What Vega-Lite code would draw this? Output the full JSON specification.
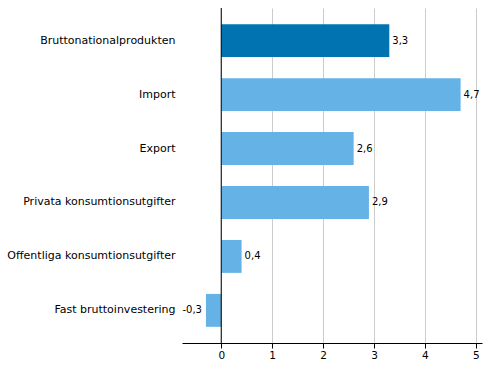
{
  "$schema": "https://vega.github.io/schema/vega-lite/v6.json",
  "autosize": {"type": "none"},
  "padding": {"left": 182, "top": 8, "right": 9, "bottom": 35},
  "width": 300,
  "height": 335,
  "config": {
    "view": {"stroke": null},
    "font": "DejaVu Sans",
    "axis": {"labelFont": "DejaVu Sans", "labelFontSize": 10, "labelColor": "#000", "titleFontSize": 10}
  },
  "data": {
    "values": [
      {"post": "Bruttonationalprodukten", "varde": 3.3, "etikett": "3,3", "grupp": "bnp"},
      {"post": "Import", "varde": 4.7, "etikett": "4,7", "grupp": "ovr"},
      {"post": "Export", "varde": 2.6, "etikett": "2,6", "grupp": "ovr"},
      {"post": "Privata konsumtionsutgifter", "varde": 2.9, "etikett": "2,9", "grupp": "ovr"},
      {"post": "Offentliga konsumtionsutgifter", "varde": 0.4, "etikett": "0,4", "grupp": "ovr"},
      {"post": "Fast bruttoinvestering", "varde": -0.3, "etikett": "-0,3", "grupp": "ovr"}
    ]
  },
  "encoding": {
    "y": {
      "field": "post", "type": "nominal", "sort": null, "title": null,
      "scale": {"paddingInner": 0.39, "paddingOuter": 0.3},
      "axis": {"domain": false, "ticks": false, "labelPadding": 7, "labelFontSize": 11, "grid": false}
    }
  },
  "layer": [
    {
      "mark": {"type": "bar"},
      "encoding": {
        "x": {
          "field": "varde", "type": "quantitative", "title": null,
          "scale": {"domain": [-0.77, 5.12], "nice": false, "zero": false},
          "axis": {"values": [0, 1, 2, 3, 4, 5], "format": "d", "domainColor": "#000", "tickColor": "#000", "tickSize": 5, "gridColor": "#cccccc", "labelFlush": false, "labelFontSize": 10.5}
        },
        "color": {
          "field": "grupp", "type": "nominal", "legend": null,
          "scale": {"domain": ["bnp", "ovr"], "range": ["#0073b0", "#65b2e6"]}
        }
      }
    },
    {
      "mark": {"type": "rule", "color": "#000", "strokeWidth": 1},
      "data": {"values": [{"noll": 0}]},
      "encoding": {"x": {"field": "noll", "type": "quantitative"}, "y": {}}
    },
    {
      "transform": [{"filter": "datum.varde >= 0"}],
      "mark": {"type": "text", "align": "left", "dx": 3, "fontSize": 10, "color": "#000"},
      "encoding": {"x": {"field": "varde", "type": "quantitative"}, "text": {"field": "etikett"}}
    },
    {
      "transform": [{"filter": "datum.varde < 0"}],
      "mark": {"type": "text", "align": "right", "dx": -4, "fontSize": 10, "color": "#000"},
      "encoding": {"x": {"field": "varde", "type": "quantitative"}, "text": {"field": "etikett"}}
    }
  ]
}
